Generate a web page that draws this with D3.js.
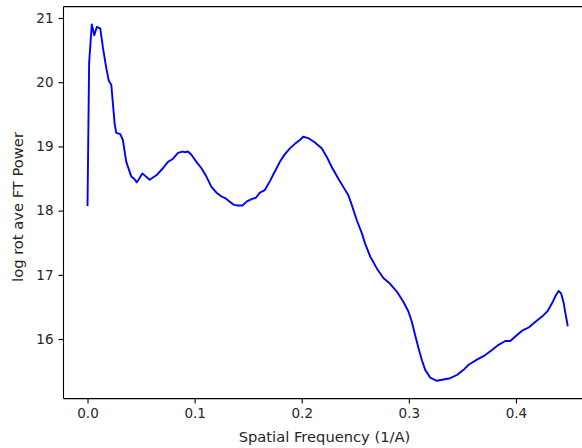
<!DOCTYPE html>
<html>
<head>
<meta charset="utf-8">
<script src="https://cdn.jsdelivr.net/npm/d3@7"></script>
<style>
  html, body { margin: 0; padding: 0; background: #fff; }
  svg { display: block; }
  text { font-family: "DejaVu Sans", sans-serif; fill: #262626; }
</style>
</head>
<body>
<svg id="chart" width="582" height="448"></svg>
<script>
// Spatial frequency (1/A)
const freq = [0.0000, 0.0015, 0.0040, 0.0063, 0.0087, 0.0119, 0.0143, 0.0175, 0.0199, 0.0222,
  0.0253, 0.0268, 0.0306, 0.0330, 0.0362, 0.0409, 0.0433, 0.0461, 0.0512, 0.0580,
  0.0643, 0.0704, 0.0751, 0.0792, 0.0845, 0.0886, 0.0907, 0.0938, 0.0970, 0.1017,
  0.1064, 0.1110, 0.1157, 0.1204, 0.1251, 0.1291, 0.1328, 0.1366, 0.1406, 0.1447,
  0.1485, 0.1531, 0.1572, 0.1609, 0.1656, 0.1703, 0.1749, 0.1796, 0.1843, 0.1890,
  0.1936, 0.1983, 0.2014, 0.2061, 0.2123, 0.2186, 0.2233, 0.2280, 0.2341, 0.2388,
  0.2435, 0.2467, 0.2514, 0.2561, 0.2591, 0.2638, 0.2701, 0.2762, 0.2825, 0.2888,
  0.2949, 0.2996, 0.3028, 0.3059, 0.3090, 0.3122, 0.3153, 0.3199, 0.3262, 0.3324,
  0.3386, 0.3449, 0.3511, 0.3558, 0.3636, 0.3714, 0.3776, 0.3838, 0.3901, 0.3947,
  0.3994, 0.4057, 0.4119, 0.4182, 0.4244, 0.4297, 0.4338, 0.4369, 0.4399, 0.4422,
  0.4446, 0.4462, 0.4484];
// log rot ave FT Power
const power = [18.07, 20.30, 20.90, 20.73, 20.86, 20.84, 20.55, 20.22, 20.02, 19.96,
  19.36, 19.21, 19.19, 19.10, 18.76, 18.53, 18.50, 18.44, 18.58, 18.48,
  18.55, 18.66, 18.76, 18.80, 18.90, 18.92, 18.91, 18.92, 18.87, 18.76,
  18.66, 18.53, 18.37, 18.28, 18.22, 18.19, 18.14, 18.09, 18.08, 18.08,
  18.14, 18.18, 18.20, 18.28, 18.32, 18.46, 18.61, 18.76, 18.88, 18.97,
  19.04, 19.10, 19.15, 19.13, 19.06, 18.97, 18.84, 18.68, 18.50, 18.37,
  18.24, 18.09, 17.85, 17.65, 17.49, 17.29, 17.10, 16.95, 16.86, 16.74,
  16.58, 16.43, 16.27, 16.06, 15.86, 15.67, 15.52, 15.40, 15.35, 15.37,
  15.39, 15.44, 15.52, 15.60, 15.68, 15.75, 15.83, 15.91, 15.97, 15.97,
  16.04, 16.13, 16.18, 16.27, 16.35, 16.44, 16.56, 16.67, 16.75, 16.71,
  16.56, 16.40, 16.20];
const xTicks = [0.0, 0.1, 0.2, 0.3, 0.4];
const yTicks = [16, 17, 18, 19, 20, 21];
const xLabel = "Spatial Frequency (1/A)";
const yLabel = "log rot ave FT Power";

const data = freq.map((f, i) => ({ f, p: power[i] }));
const svg = d3.select("#chart");

const mLeft = 63.5, mTop = 6.6, plotW = 528.3, plotH = 392.0;

function padded(ext) {
  const span = ext[1] - ext[0];
  return [ext[0] - 0.05 * span, ext[1] + 0.05 * span];
}
const x = d3.scaleLinear().domain(padded(d3.extent(freq))).range([mLeft, mLeft + plotW]);
const y = d3.scaleLinear().domain(padded(d3.extent(power))).range([mTop + plotH, mTop]);

// line
svg.append("path")
  .datum(data)
  .attr("fill", "none")
  .attr("stroke", "#0000ff")
  .attr("stroke-width", 1.9)
  .attr("stroke-linejoin", "round")
  .attr("d", d3.line().x(d => x(d.f)).y(d => y(d.p)));

// spines
const spine = svg.append("g").attr("stroke", "#000").attr("stroke-width", 1.1).attr("fill", "none");
spine.append("line").attr("x1", mLeft).attr("x2", mLeft).attr("y1", mTop).attr("y2", mTop + plotH);
spine.append("line").attr("x1", mLeft).attr("x2", mLeft + plotW).attr("y1", mTop).attr("y2", mTop);
spine.append("line").attr("x1", mLeft).attr("x2", mLeft + plotW).attr("y1", mTop + plotH).attr("y2", mTop + plotH);
spine.append("line").attr("x1", mLeft + plotW).attr("x2", mLeft + plotW).attr("y1", mTop).attr("y2", mTop + plotH);

// axes
const xAxis = d3.axisBottom(x).tickValues(xTicks).tickFormat(d3.format(".1f")).tickSize(5).tickPadding(5);
const yAxis = d3.axisLeft(y).tickValues(yTicks).tickFormat(d3.format("d")).tickSize(5).tickPadding(5);

const gx = svg.append("g").attr("transform", `translate(0,${mTop + plotH})`).call(xAxis);
const gy = svg.append("g").attr("transform", `translate(${mLeft},0)`).call(yAxis);
[gx, gy].forEach(g => {
  g.select(".domain").remove();
  g.selectAll(".tick line").attr("stroke", "#000").attr("stroke-width", 1.1);
  g.selectAll(".tick text").style("font-family", "DejaVu Sans").style("font-size", "13.5px").attr("fill", "#262626");
});

svg.append("text")
  .attr("x", 324.5).attr("y", 442)
  .attr("text-anchor", "middle")
  .style("font-size", "14.7px")
  .text(xLabel);

svg.append("text")
  .attr("transform", `translate(23,207) rotate(-90)`)
  .attr("text-anchor", "middle")
  .style("font-size", "14.7px")
  .text(yLabel);
</script>
</body>
</html>
